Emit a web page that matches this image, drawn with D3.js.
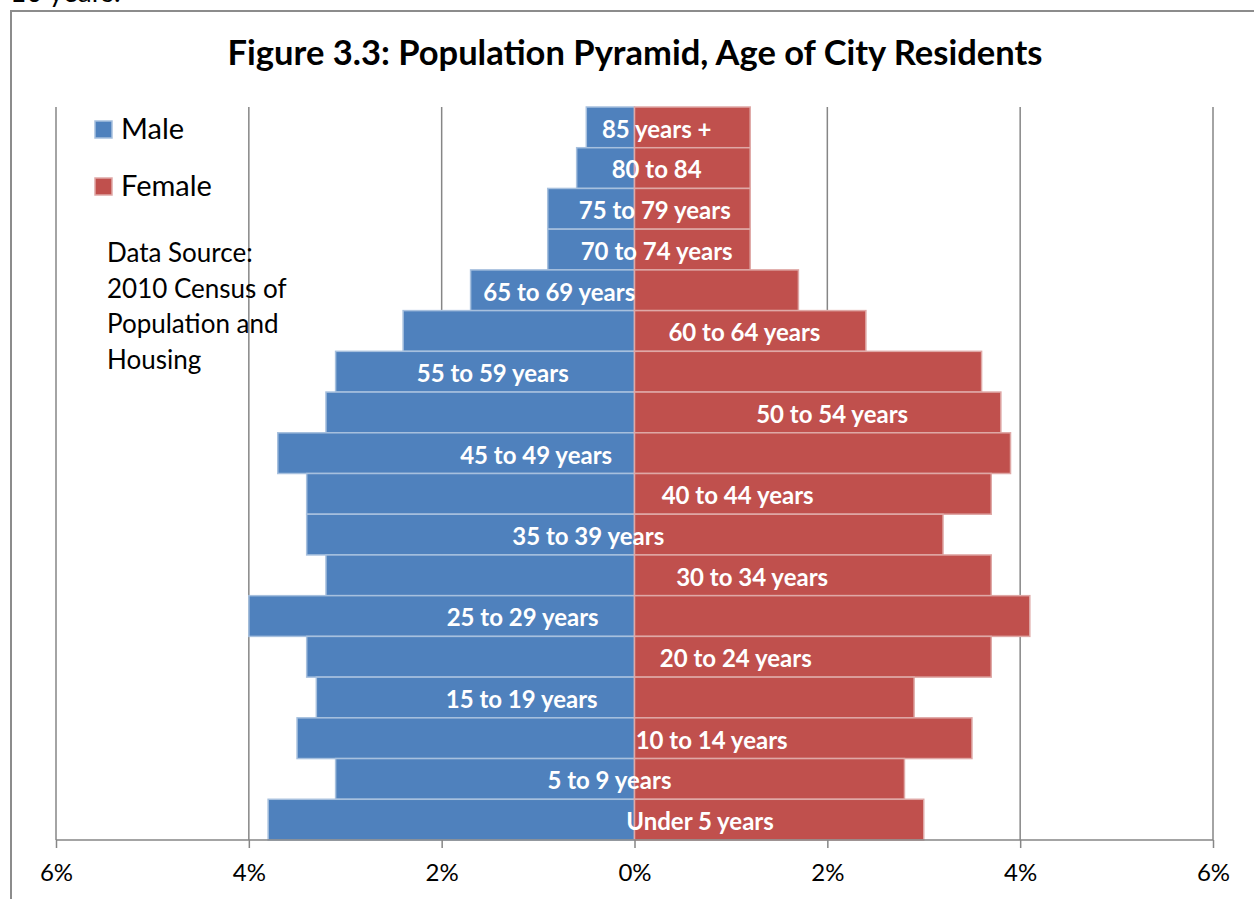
<!DOCTYPE html>
<html>
<head>
<meta charset="utf-8">
<script src="https://cdn.jsdelivr.net/npm/d3@7"></script>
<style>
  body { margin: 0; background: #fff; }
  svg { display: block; font-family: Lato, "Open Sans", sans-serif; }
</style>
</head>
<body>
<div id="chart"></div>
<script>
// age groups, top of pyramid first
const ages = [
  "85 years +", "80 to 84", "75 to 79 years", "70 to 74 years", "65 to 69 years",
  "60 to 64 years", "55 to 59 years", "50 to 54 years", "45 to 49 years",
  "40 to 44 years", "35 to 39 years", "30 to 34 years", "25 to 29 years",
  "20 to 24 years", "15 to 19 years", "10 to 14 years", "5 to 9 years", "Under 5 years"
];
// share of population, percent
const male = [0.5, 0.6, 0.9, 0.9, 1.7, 2.4, 3.1, 3.2, 3.7, 3.4, 3.4, 3.2, 4.0, 3.4, 3.3, 3.5, 3.1, 3.8];
const female = [1.2, 1.2, 1.2, 1.2, 1.7, 2.4, 3.6, 3.8, 3.9, 3.7, 3.2, 3.7, 4.1, 3.7, 2.9, 3.5, 2.8, 3.0];
// where each age label sits on the x axis (percent, male side negative)
const labelAt = [0.23, 0.23, 0.21, 0.23, -0.78, 1.14, -1.47, 2.05, -1.02, 1.07, -0.48, 1.22, -1.16, 1.05, -1.17, 0.8, -0.26, 0.68];
const ticks = [-6, -4, -2, 0, 2, 4, 6];
const sourceLines = ["Data Source:", "2010 Census of", "Population and", "Housing"];

const W = 1254, H = 899;
const blue = "#4f81bd", red = "#c0504d", grid = "#868686";

const svg = d3.select("#chart").append("svg").attr("width", W).attr("height", H);

// cut-off text above the chart frame
svg.append("text").attr("x", 10).attr("y", 2)
  .attr("font-size", 28).attr("fill", "#000").text("10 years.");

// chart frame (runs off the right and bottom of the picture)
svg.append("path")
  .attr("d", `M11,${H + 5} V11 H${W + 5}`)
  .attr("fill", "none").attr("stroke", "#8c8c8c").attr("stroke-width", 2);

const x = d3.scaleLinear().domain([-6, 6]).range([56, 1213]);
const y = d3.scaleBand().domain(ages).range([107, 840]).padding(0);

// vertical gridlines
svg.append("g").selectAll("line")
  .data(ticks.filter((t) => t !== 0))
  .enter().append("line")
  .attr("x1", (d) => x(d)).attr("x2", (d) => x(d))
  .attr("y1", y.range()[0]).attr("y2", y.range()[1])
  .attr("stroke", grid).attr("stroke-width", 1.5);

// bars
const bars = svg.append("g");
bars.selectAll("rect.m")
  .data(ages).enter().append("rect").attr("class", "m")
  .attr("x", (d, i) => x(-male[i]))
  .attr("y", (d) => y(d))
  .attr("width", (d, i) => x(0) - x(-male[i]))
  .attr("height", y.bandwidth())
  .attr("fill", blue)
  .attr("stroke", "#a7c0de").attr("stroke-width", 1.5);
bars.selectAll("rect.f")
  .data(ages).enter().append("rect").attr("class", "f")
  .attr("x", x(0))
  .attr("y", (d) => y(d))
  .attr("width", (d, i) => x(female[i]) - x(0))
  .attr("height", y.bandwidth())
  .attr("fill", red)
  .attr("stroke", "#dfa8a6").attr("stroke-width", 1.5);

// x axis
const xAxis = d3.axisBottom(x)
  .tickValues(ticks)
  .tickFormat((d) => Math.abs(d) + "%")
  .tickSize(8)
  .tickPadding(16);
const axisG = svg.append("g")
  .attr("transform", `translate(0,${y.range()[1]})`)
  .call(xAxis);
axisG.select(".domain").attr("stroke", grid).attr("stroke-width", 1.5)
  .attr("d", `M${x(-6)},0H${x(6)}`);
axisG.selectAll(".tick line").attr("stroke", grid).attr("stroke-width", 1.5);
axisG.selectAll(".tick text")
  .attr("font-size", 24).attr("fill", "#000")
  .attr("font-family", "Lato, sans-serif");

// age labels
svg.append("g").selectAll("text")
  .data(ages).enter().append("text")
  .attr("x", (d, i) => x(labelAt[i]))
  .attr("y", (d) => y(d) + y.bandwidth() / 2 + 2)
  .attr("dy", "0.35em")
  .attr("text-anchor", "middle")
  .attr("font-size", 24).attr("font-weight", "bold")
  .attr("fill", "#fff")
  .text((d) => d);

// title
svg.append("text")
  .attr("x", 635).attr("y", 65)
  .attr("text-anchor", "middle")
  .attr("font-size", 34.5).attr("font-weight", "bold")
  .text("Figure 3.3: Population Pyramid, Age of City Residents");

// legend
const legend = svg.append("g").selectAll("g")
  .data([["Male", blue, "#a7c0de"], ["Female", red, "#dfa8a6"]])
  .enter().append("g")
  .attr("transform", (d, i) => `translate(95,${121 + i * 57})`);
legend.append("rect")
  .attr("width", 17).attr("height", 17)
  .attr("fill", (d) => d[1]).attr("stroke", (d) => d[2]).attr("stroke-width", 1.5);
legend.append("text")
  .attr("x", 26).attr("y", 18)
  .attr("font-size", 29)
  .text((d) => d[0]);

// data source note
svg.append("g").selectAll("text")
  .data(sourceLines).enter().append("text")
  .attr("x", 107)
  .attr("y", (d, i) => 262 + i * 35.5)
  .attr("font-size", 26)
  .text((d) => d);
</script>
</body>
</html>
